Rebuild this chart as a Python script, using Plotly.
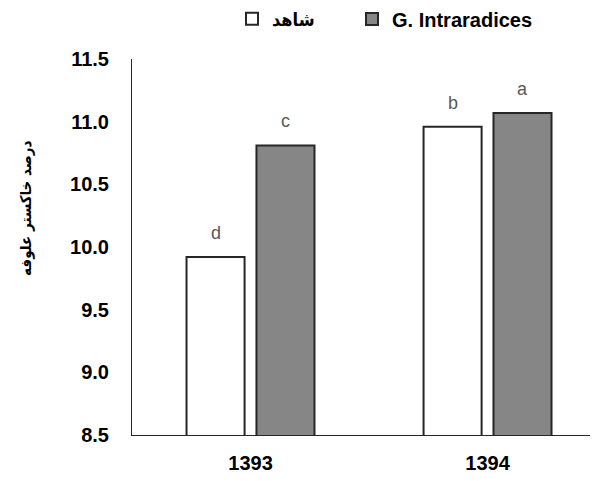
import plotly.graph_objects as go

categories = ["1393", "1394"]
control_vals = [9.92, 10.96]
inoc_vals = [10.81, 11.07]
control_letters = ["d", "b"]
inoc_letters = ["c", "a"]
control_name = "شاهد"
inoc_name = "G. Intraradices"
y_title = "درصد خاکستر علوفه"
y_ticks = [8.5, 9.0, 9.5, 10.0, 10.5, 11.0, 11.5]

FONT = "Liberation Sans, Arial, DejaVu Sans"
W, H = 590, 473  # page body has an 8px margin

fig = go.Figure()
fig.add_trace(go.Bar(
    x=categories, y=control_vals, name=control_name, legend="legend",
    marker=dict(color="#ffffff", line=dict(color="#262626", width=2)),
))
fig.add_trace(go.Bar(
    x=categories, y=inoc_vals, name=inoc_name, legend="legend2",
    marker=dict(color="#868686", line=dict(color="#262626", width=2)),
))

for i, cat in enumerate(categories):
    for vals, letters, shift in ((control_vals, control_letters, -35), (inoc_vals, inoc_letters, 35)):
        fig.add_annotation(
            x=i, y=vals[i], text=letters[i], showarrow=False,
            xshift=shift, yshift=24, yanchor="middle",
            font=dict(family=FONT, size=18, color="#595959"),
        )

fig.add_annotation(
    xref="paper", yref="paper", x=-0.2275, y=0.604, text="<b>" + y_title + "</b>",
    textangle=-90, showarrow=False, xanchor="center", yanchor="middle",
    font=dict(family="DejaVu Sans Condensed, DejaVu Sans", size=15, color="#000000"),
)

legend_common = dict(
    orientation="h", xref="container", yref="container",
    xanchor="left", yanchor="middle", y=1 - 11 / H,
    bgcolor="rgba(0,0,0,0)",
)

fig.update_layout(
    width=W, height=H,
    margin=dict(l=124, r=0, t=51, b=46, autoexpand=False),
    paper_bgcolor="white", plot_bgcolor="white",
    barmode="group", bargap=0.41, bargroupgap=0.17,
    showlegend=True,
    legend=dict(legend_common, x=224 / W,
                font=dict(family="DejaVu Sans Condensed, DejaVu Sans", size=18,
                          color="#000000", weight="bold")),
    legend2=dict(legend_common, x=344 / W,
                 font=dict(family=FONT, size=20, color="#000000", weight="bold")),
    xaxis=dict(
        type="category", range=[-0.5, 1.466], automargin=False,
        showline=True, linecolor="#262626", linewidth=1,
        ticks="", showgrid=False,
        tickfont=dict(family=FONT, size=20, color="#000000", weight="bold"),
        ticklabelstandoff=10,
    ),
    yaxis=dict(
        range=[8.5, 11.5], tickvals=y_ticks, tickformat=".1f", automargin=False,
        showline=True, linecolor="#262626", linewidth=1,
        ticks="", showgrid=False, zeroline=False,
        tickfont=dict(family=FONT, size=20, color="#000000", weight="bold"),
        ticklabelstandoff=18,
    ),
)

fig.write_html("out.html")
